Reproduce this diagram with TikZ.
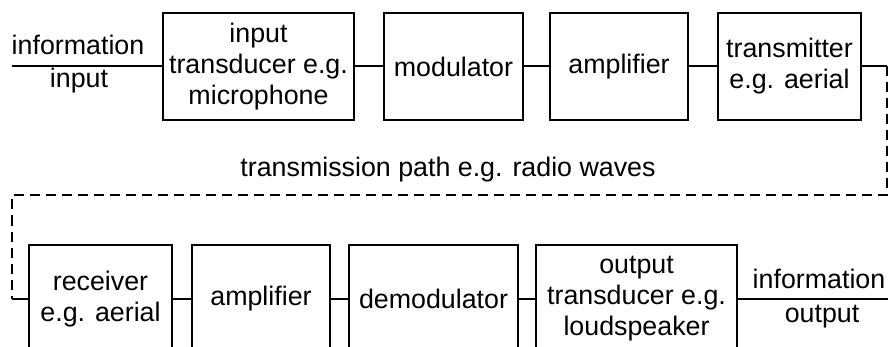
\documentclass[tikz,border=0pt]{standalone}
\usepackage{fontspec}
\setmainfont{Liberation Sans}
\usepackage{tikz}
\usetikzlibrary{arrows}

\begin{document}
\begin{tikzpicture}[-,x=1pt,y=-1pt,line width=2pt]
    \tikzstyle{block}=[draw=black, rectangle, align=center, inner sep=0pt, minimum height=107pt, font=\fontsize{26.8}{31}\selectfont]
    \tikzstyle{lbl}=[inner sep=0pt, font=\fontsize{26.8}{31}\selectfont]

    \clip (0,0) rectangle (890,347);

    % top row
    \node[block, minimum width=191pt] (itrans) at (258.5,66.5) {input\\transducer e.g.\\microphone};
    \node[block, minimum width=139pt] (mod)    at (453.5,66.5) {modulator};
    \node[block, minimum width=138pt] (amp1)   at (619,66.5)   {amplifier};
    \node[block, minimum width=143pt] (trans)  at (789.5,66.5) {transmitter\\e.g. aerial};

    % bottom row
    \node[block, minimum width=143pt, minimum height=108pt] (recv)   at (100.5,299) {receiver\\e.g. aerial};
    \node[block, minimum width=138pt, minimum height=108pt] (amp2)   at (261,299)   {amplifier};
    \node[block, minimum width=169pt, minimum height=108pt] (demod)  at (433.5,299) {demodulator};
    \node[block, minimum width=201pt, minimum height=108pt] (otrans) at (636.5,299) {output\\transducer e.g.\\loudspeaker};

    \coordinate (in)  at (12,66.5);
    \coordinate (out) at (888,299);
    \coordinate (tr)  at (887,66.5);
    \coordinate (rc)  at (12,299);

    \node[lbl, anchor=base] (infoin)  at (78,55)   {information};
    \node[lbl, anchor=base] (inp)     at (79,88)   {input};
    \node[lbl, anchor=base] (infoout) at (819,288) {information};
    \node[lbl, anchor=base] (outp)    at (822,322) {output};
    \node[lbl, anchor=base] (path)    at (448,177) {transmission path e.g. radio waves};

    \path
     (in) edge (itrans)
     (itrans) edge (mod)
     (mod) edge (amp1)
     (amp1) edge (trans)
     (trans) edge (tr)
     (rc) edge (recv)
     (recv) edge (amp2)
     (amp2) edge (demod)
     (demod) edge (otrans)
     (otrans) edge (out)
     ;
    \draw[dash pattern=on 10pt off 6pt] (tr) -- (887,195) -- (12,195) -- (rc);
  \end{tikzpicture}
\end{document}
